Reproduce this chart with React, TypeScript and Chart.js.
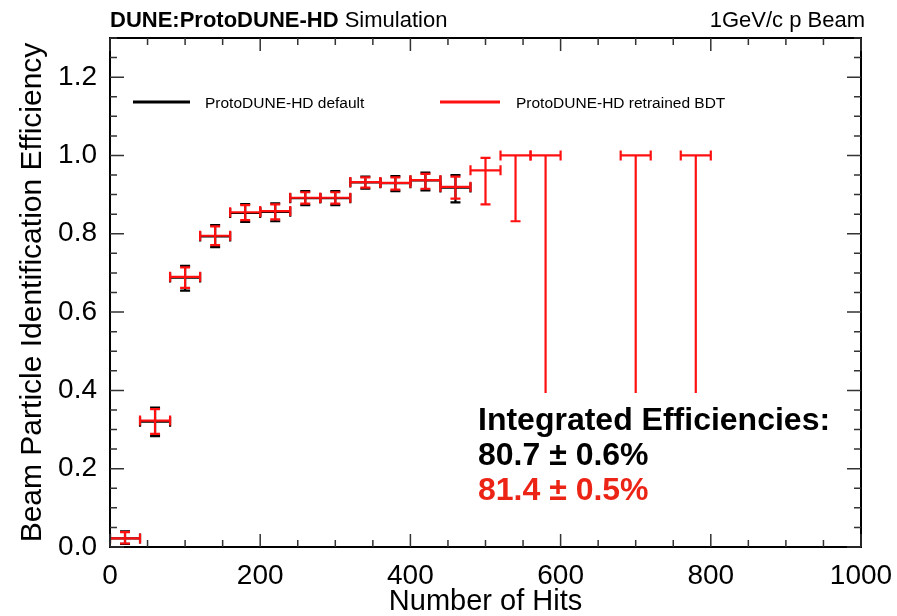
import React, { useEffect, useRef } from "react";
import { Chart, registerables } from "chart.js";

Chart.register(...registerables);

// ---------- data ----------
const binCenters = [20, 60, 100, 140, 180, 220, 260, 300, 340, 380, 420, 460, 500, 540, 580, 700, 780];
const binHalfWidth = 20;

const defaultEff = [0.022, 0.320, 0.688, 0.793, 0.853, 0.856, 0.891, 0.891, 0.931, 0.929, 0.936, 0.918];
const defaultLow = [0.008, 0.283, 0.655, 0.766, 0.830, 0.832, 0.873, 0.873, 0.915, 0.909, 0.911, 0.880];
const defaultHigh = [0.040, 0.356, 0.718, 0.822, 0.876, 0.878, 0.909, 0.909, 0.946, 0.947, 0.956, 0.950];

const retrainedEff = [0.022, 0.323, 0.690, 0.795, 0.855, 0.858, 0.892, 0.892, 0.932, 0.930, 0.937, 0.920, 0.962, 1.0, 1.0, 1.0, 1.0];
const retrainedLow = [0.009, 0.289, 0.662, 0.771, 0.835, 0.837, 0.877, 0.877, 0.918, 0.913, 0.915, 0.890, 0.875, 0.832, 0.159, 0.159, 0.159];
const retrainedHigh = [0.038, 0.352, 0.714, 0.819, 0.873, 0.875, 0.906, 0.906, 0.944, 0.944, 0.953, 0.946, 0.994, 1.0, 1.0, 1.0, 1.0];

const xTickLabels = [0, 200, 400, 600, 800, 1000];
const yTickLabels = [0, 0.2, 0.4, 0.6, 0.8, 1.0, 1.2];

const seriesNames = ["ProtoDUNE-HD default", "ProtoDUNE-HD retrained BDT"];
const integratedTitle = "Integrated Efficiencies:";
const integratedValues = ["80.7 ± 0.6%", "81.4 ± 0.5%"];

// ---------- styles ----------
const RED = "#ff1010";
const RED_TEXT = "#ec2416";
const SANS = '"Liberation Sans", Arial, sans-serif';

const errorBarPlugin = {
  id: "errorBars",
  afterDatasetsDraw(chart: any) {
    const { ctx, chartArea } = chart;
    const x = chart.scales.x;
    const y = chart.scales.y;
    ctx.save();
    ctx.beginPath();
    ctx.rect(chartArea.left, chartArea.top, chartArea.right - chartArea.left, chartArea.bottom - chartArea.top);
    ctx.clip();
    chart.data.datasets.forEach((ds: any) => {
      ctx.strokeStyle = ds.errColor;
      ctx.lineWidth = 2.2;
      ctx.lineCap = "butt";
      ds.data.forEach((p: any, i: number) => {
        const xl = x.getPixelForValue(p.x - binHalfWidth);
        const xr = x.getPixelForValue(p.x + binHalfWidth);
        const xc = x.getPixelForValue(p.x);
        const yc = y.getPixelForValue(p.y);
        const yl = y.getPixelForValue(ds.errLow[i]);
        const yh = y.getPixelForValue(ds.errHigh[i]);
        const c = 5;
        ctx.beginPath();
        ctx.moveTo(xl, yc); ctx.lineTo(xr, yc);
        ctx.moveTo(xc, yl); ctx.lineTo(xc, yh);
        ctx.moveTo(xl, yc - c); ctx.lineTo(xl, yc + c);
        ctx.moveTo(xr, yc - c); ctx.lineTo(xr, yc + c);
        if (yl - yc > 0.5) { ctx.moveTo(xc - c, yl); ctx.lineTo(xc + c, yl); }
        if (yc - yh > 0.5) { ctx.moveTo(xc - c, yh); ctx.lineTo(xc + c, yh); }
        ctx.stroke();
      });
    });
    ctx.restore();
  },
};

const decorPlugin = {
  id: "decor",
  afterDraw(chart: any) {
    const { ctx, chartArea } = chart;
    const x = chart.scales.x;
    const y = chart.scales.y;
    const { left, right, top, bottom } = chartArea;
    ctx.save();

    // annotation pave (white filled)
    ctx.fillStyle = "#ffffff";
    ctx.fillRect(470, 393, 380, 135);
    ctx.textAlign = "left";
    ctx.textBaseline = "alphabetic";
    ctx.font = `bold 32px ${SANS}`;
    ctx.fillStyle = "#000";
    ctx.fillText(integratedTitle, 478, 430);
    ctx.fillText(integratedValues[0], 478, 465);
    ctx.fillStyle = RED_TEXT;
    ctx.fillText(integratedValues[1], 478, 500);

    // frame
    ctx.strokeStyle = "#000";
    ctx.lineWidth = 2;
    ctx.strokeRect(left, top, right - left, bottom - top);

    // ticks (ROOT style, inside, mirrored)
    ctx.lineWidth = 1.5;
    ctx.strokeStyle = "#333";
    ctx.beginPath();
    for (let v = 0; v <= 1000 + 1e-6; v += 50) {
      const px = x.getPixelForValue(v);
      const len = Math.abs(v % 200) < 1e-6 ? 13 : 7;
      ctx.moveTo(px, bottom); ctx.lineTo(px, bottom - len);
      ctx.moveTo(px, top); ctx.lineTo(px, top + len);
    }
    for (let k = 0; k <= 26; k++) {
      const v = k * 0.05;
      const py = y.getPixelForValue(v);
      const len = k % 4 === 0 ? 14 : 7;
      ctx.moveTo(left, py); ctx.lineTo(left + len, py);
      ctx.moveTo(right, py); ctx.lineTo(right - len, py);
    }
    ctx.stroke();

    // header texts
    ctx.fillStyle = "#000";
    ctx.font = `bold 22px ${SANS}`;
    ctx.textAlign = "left";
    const bold = "DUNE:ProtoDUNE-HD";
    ctx.fillText(bold, 110, 27);
    const w = ctx.measureText(bold).width;
    ctx.font = `22px ${SANS}`;
    ctx.fillText(" Simulation", 110 + w, 27);
    ctx.textAlign = "right";
    ctx.fillText("1GeV/c p Beam", 865, 27);

    // legend
    ctx.textAlign = "left";
    ctx.font = `15.5px ${SANS}`;
    ctx.lineWidth = 3;
    ctx.strokeStyle = "#000";
    ctx.beginPath(); ctx.moveTo(133, 102); ctx.lineTo(190, 102); ctx.stroke();
    ctx.fillStyle = "#000";
    ctx.fillText(seriesNames[0], 205, 108);
    ctx.strokeStyle = RED;
    ctx.beginPath(); ctx.moveTo(440, 102); ctx.lineTo(500, 102); ctx.stroke();
    ctx.fillText(seriesNames[1], 516, 108);

    ctx.restore();
  },
};

export default function App() {
  const ref = useRef<HTMLCanvasElement | null>(null);
  useEffect(() => {
    document.body.style.margin = "0";
    const canvas = ref.current;
    if (!canvas) return;
    const chart = new Chart(canvas, {
      type: "scatter",
      data: {
        datasets: [
          {
            label: seriesNames[0],
            data: defaultEff.map((v, i) => ({ x: binCenters[i], y: v })),
            errLow: defaultLow,
            errHigh: defaultHigh,
            errColor: "#000",
            pointRadius: 0,
            showLine: false,
          } as any,
          {
            label: seriesNames[1],
            data: retrainedEff.map((v, i) => ({ x: binCenters[i], y: v })),
            errLow: retrainedLow,
            errHigh: retrainedHigh,
            errColor: RED,
            pointRadius: 0,
            showLine: false,
          } as any,
        ],
      },
      options: {
        animation: false,
        responsive: false,
        devicePixelRatio: 1,
        layout: { padding: { top: 38, right: 36, left: 0, bottom: 0 } },
        plugins: { legend: { display: false }, tooltip: { enabled: false } },
        scales: {
          x: {
            type: "linear",
            min: 0,
            max: 1000,
            afterFit: (s: any) => { s.height = 69; s.paddingLeft = 0; s.paddingRight = 0; },
            afterBuildTicks: (s: any) => { s.ticks = xTickLabels.map((v) => ({ value: v })); },
            grid: { display: false, drawTicks: false },
            border: { display: false },
            ticks: {
              color: "#000",
              padding: 12,
              maxRotation: 0,
              autoSkip: false,
              font: { family: SANS, size: 28 },
              callback: (v: any) => String(v),
            },
            title: {
              display: true,
              text: "Number of Hits",
              color: "#000",
              font: { family: SANS, size: 29, lineHeight: 1 },
              padding: { top: 0, bottom: 0 },
            },
          },
          y: {
            type: "linear",
            min: 0,
            max: 1.3,
            afterFit: (s: any) => { s.width = 110; s.paddingTop = 0; s.paddingBottom = 0; },
            afterBuildTicks: (s: any) => { s.ticks = yTickLabels.map((v) => ({ value: v })); },
            grid: { display: false, drawTicks: false },
            border: { display: false },
            ticks: {
              color: "#000",
              padding: 13,
              autoSkip: false,
              font: { family: SANS, size: 28 },
              callback: (v: any) => Number(v).toFixed(1),
            },
            title: {
              display: true,
              text: "Beam Particle Identification Efficiency",
              color: "#000",
              font: { family: SANS, size: 30, lineHeight: 1 },
              padding: { top: 18, bottom: 0 },
            },
          },
        },
      } as any,
      plugins: [errorBarPlugin, decorPlugin],
    });
    return () => chart.destroy();
  }, []);
  return (
    <div style={{ width: 897, height: 616 }}>
      <canvas ref={ref} width={897} height={616} style={{ display: "block" }} />
    </div>
  );
}
